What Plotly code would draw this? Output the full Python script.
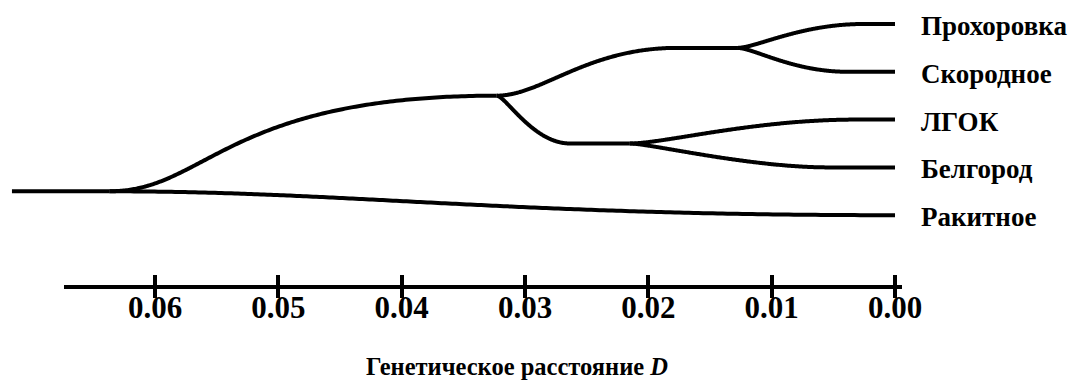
import numpy as np
import plotly.graph_objects as go

# ---------------- data ----------------
leaves = ["Прохоровка", "Скородное", "ЛГОК", "Белгород", "Ракитное"]
leaf_dist = [0.0, 0.0, 0.0, 0.0, 0.0]          # genetic distance of leaves
node_names = ["PS", "LB", "UP", "ROOT"]
node_dist = [0.0128, 0.0215, 0.0323, 0.0637]    # merge distances
root_stem_start = 0.0716
# edges: parent -> child
edge_parent = ["PS", "PS", "LB", "LB", "UP", "UP", "ROOT", "ROOT"]
edge_child = ["Прохоровка", "Скородное", "ЛГОК", "Белгород", "PS", "LB", "UP", "Ракитное"]

tick_vals = [0.06, 0.05, 0.04, 0.03, 0.02, 0.01, 0.00]
tick_text = ["0.06", "0.05", "0.04", "0.03", "0.02", "0.01", "0.00"]
axis_span = [0.0674, -0.0006]
x_title = "Генетическое расстояние <i>D</i>"

# ---------------- style ----------------
W, H = 1072, 380
X_RANGE = [0.07257, -0.01435]
Y_RANGE = [7.448, -0.502]
ROOT_Y = 3.5
FONT = "Liberation Serif"
LW = 4
# curve shape per edge (bezier handles a,b and transition fraction f)
edge_style = {
    ("PS", "Прохоровка"): (0.15, 0.5, 0.8),
    ("PS", "Скородное"): (0.15, 0.5, 0.7),
    ("LB", "ЛГОК"): (0.15, 0.55, 0.85),
    ("LB", "Белгород"): (0.1, 0.6, 0.75),
    ("UP", "PS"): (0.25, 0.5, 0.75),
    ("UP", "LB"): (0.12, 0.5, 0.55),
    ("ROOT", "UP"): (0.25, 0.3, 1.0),
    ("ROOT", "Ракитное"): (0.3, 0.5, 1.0),
}

# ---------------- positions ----------------
pos = {}
for i, name in enumerate(leaves):
    pos[name] = (leaf_dist[i], float(i))
nd = dict(zip(node_names, node_dist))
pos["PS"] = (nd["PS"], (pos["Прохоровка"][1] + pos["Скородное"][1]) / 2)
pos["LB"] = (nd["LB"], (pos["ЛГОК"][1] + pos["Белгород"][1]) / 2)
pos["UP"] = (nd["UP"], (pos["PS"][1] + pos["LB"][1]) / 2)
pos["ROOT"] = (nd["ROOT"], ROOT_Y)


def edge_curve(p, c, a, b, f, n=200):
    d0, y0 = pos[p]
    d1, y1 = pos[c]
    s = np.linspace(0, 1, n)
    bx = 3 * (1 - s) ** 2 * s * a + 3 * (1 - s) * s ** 2 * b + s ** 3
    by = 3 * (1 - s) * s ** 2 + s ** 3
    d = d0 - bx * f * (d0 - d1)
    y = y0 + by * (y1 - y0)
    d = np.append(d, d1)
    y = np.append(y, y1)
    return d.tolist(), y.tolist()


fig = go.Figure()

# root stem
fig.add_trace(go.Scatter(x=[root_stem_start, pos["ROOT"][0]], y=[ROOT_Y, ROOT_Y],
                         mode="lines", line=dict(color="black", width=LW),
                         hoverinfo="skip", showlegend=False))
for p, c in zip(edge_parent, edge_child):
    a, b, f = edge_style[(p, c)]
    d, y = edge_curve(p, c, a, b, f)
    fig.add_trace(go.Scatter(x=d, y=y, mode="lines",
                             line=dict(color="black", width=LW, simplify=False),
                             hoverinfo="skip", showlegend=False))


# scale axis domain computed from the same scale
def to_paper(d):
    return (X_RANGE[0] - d) / (X_RANGE[0] - X_RANGE[1])


dom = [to_paper(axis_span[0]), to_paper(axis_span[1])]
AX_POS = 93 / H

for ax in ["x2", "x3"]:
    fig.add_trace(go.Scatter(x=axis_span, y=[0, 0], mode="lines",
                             line=dict(width=0), hoverinfo="skip", showlegend=False,
                             xaxis=ax, yaxis="y2"))

# leaf labels
for i, name in enumerate(leaves):
    fig.add_annotation(x=leaf_dist[i], y=pos[name][1] + 0.04, xref="x", yref="y",
                       text=name, showarrow=False, xanchor="left", yanchor="middle",
                       xshift=24,
                       font=dict(family=FONT, size=27, color="black", weight="bold"))

fig.add_annotation(x=517 / W, y=1 - 366 / H, xref="paper", yref="paper",
                   text=x_title, showarrow=False, xanchor="center", yanchor="middle",
                   font=dict(family=FONT, size=24.5, color="black", weight="bold"))

fig.update_layout(
    template="none",
    width=W, height=H, autosize=False,
    margin=dict(l=0, r=0, t=0, b=0, pad=0),
    paper_bgcolor="white", plot_bgcolor="rgba(0,0,0,0)",
    xaxis=dict(range=X_RANGE, visible=False, domain=[0, 1], automargin=False),
    yaxis=dict(range=Y_RANGE, visible=False, domain=[0, 1], automargin=False),
    yaxis2=dict(range=[-1, 1], visible=False, domain=[0, 1], anchor="x2", automargin=False),
    xaxis2=dict(range=axis_span, domain=dom, anchor="free", position=AX_POS,
                showline=True, linewidth=LW, linecolor="black", automargin=False,
                ticks="inside", ticklen=10, tickwidth=LW, tickcolor="black",
                tickvals=tick_vals, ticktext=tick_text, ticklabelstandoff=-8,
                tickfont=dict(family=FONT, size=31, color="black", weight="bold"),
                showgrid=False, zeroline=False),
    xaxis3=dict(range=axis_span, domain=dom, anchor="free", position=AX_POS, side="bottom",
                showline=False, ticks="outside", ticklen=10, tickwidth=LW, tickcolor="black",
                tickvals=tick_vals, showticklabels=False, automargin=False,
                showgrid=False, zeroline=False),
)

fig.write_html(
    "out.html",
    config={"responsive": False, "displayModeBar": False},
    post_script=("document.body.style.margin='0px';"
                 "document.body.style.overflow='hidden';"),
)
